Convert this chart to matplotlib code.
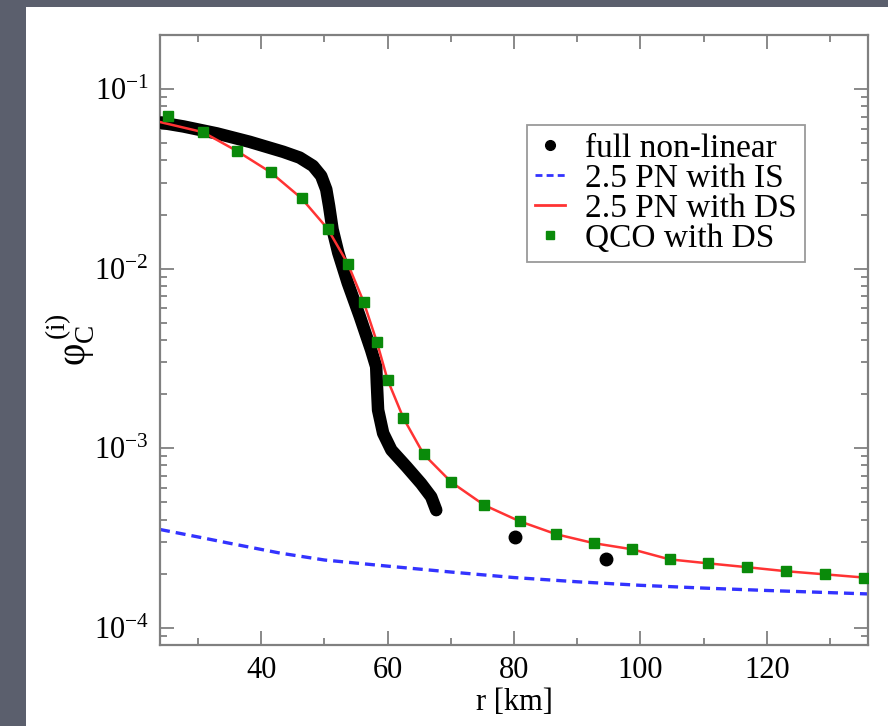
import matplotlib
matplotlib.use("Agg")
import matplotlib.pyplot as plt
from matplotlib.lines import Line2D
from matplotlib.patches import Rectangle
from matplotlib.ticker import LogLocator, MultipleLocator

plt.rcParams['font.family'] = ['Liberation Serif', 'DejaVu Serif']
plt.rcParams['mathtext.fontset'] = 'custom'
plt.rcParams['mathtext.rm'] = 'Liberation Serif'
plt.rcParams['mathtext.it'] = 'Liberation Serif:italic'
plt.rcParams['mathtext.cal'] = 'Liberation Serif'

# full non-linear evolution (dense band of points)
r_full = [24.0, 27.7, 33.0, 38.2, 43.5, 46.1, 48.2, 49.5, 50.3, 50.75, 51.3,
          52.2, 53.7, 55.6, 57.4, 58.2, 58.3, 58.5, 59.3, 60.6, 63.0, 65.3,
          66.9, 67.7]
phi_full = [0.0651, 0.0619, 0.0566, 0.0508, 0.0447, 0.0415, 0.0373, 0.0328,
            0.0276, 0.0223, 0.0165, 0.01225, 0.00832, 0.00542, 0.00352,
            0.00284, 0.00230, 0.00163, 0.00121, 0.000975, 0.000787,
            0.000635, 0.000535, 0.000451]
# later isolated samples of the full run
r_late = [80.1, 94.6]
phi_late = [3.18e-4, 2.40e-4]

# 2.5 PN with IS
r_is = [24, 30, 35, 43, 50, 60, 70, 80, 90, 100, 110, 120, 136]
phi_is = [3.52e-4, 3.2e-4, 2.95e-4, 2.6e-4, 2.38e-4, 2.2e-4, 2.04e-4,
          1.9e-4, 1.8e-4, 1.72e-4, 1.66e-4, 1.61e-4, 1.54e-4]

# QCO with DS
r_qco = [25.3, 30.8, 36.2, 41.5, 46.4, 50.5, 53.7, 56.2, 58.3, 60.0, 62.5,
         65.7, 70.1, 75.3, 80.9, 86.7, 92.7, 98.7, 104.6, 110.7, 116.9,
         123.1, 129.2, 135.4]
phi_qco = [0.0706, 0.0575, 0.0451, 0.0344, 0.0246, 0.0167, 0.01066, 0.00654,
           0.00391, 0.00240, 0.00147, 0.000925, 0.000645, 0.000481,
           0.000391, 0.000331, 0.000295, 0.000273, 0.000240, 0.000228,
           0.000217, 0.000206, 0.000198, 0.000190]

# 2.5 PN with DS
r_ds = [24.0] + r_qco[1:] + [136.0]
phi_ds = [0.0655] + phi_qco[1:] + [1.89e-4]

W, H = 888, 726
fig = plt.figure(figsize=(W / 100, H / 100), dpi=100, facecolor='#5b5f6d')
fig.patches.append(Rectangle((26 / W, 0), 1, 1 - 7 / H, transform=fig.transFigure,
                             facecolor='white', edgecolor='none', zorder=-5))
ax = fig.add_axes([160 / W, 1 - 645 / H, (868 - 160) / W, (645 - 35) / H])

ax.plot(r_is, phi_is, color='#3333ff', ls=(0, (3, 1.8)), lw=2.4, zorder=2)
ax.plot(r_full, phi_full, color='black', lw=9,
        solid_capstyle='round', solid_joinstyle='round', zorder=3)
ax.plot(r_late, phi_late, 'o', color='black', ms=9, zorder=3)
ax.plot(r_ds, phi_ds, color='#ff3333', lw=1.8, zorder=4)
ax.plot(r_qco, phi_qco, 's', color='#0a8a0a', ms=7, mec='#0a8a0a', zorder=5)

ax.set_yscale('log')
ax.set_xlim(24, 136)
ax.set_ylim(8e-5, 0.2)
ax.xaxis.set_major_locator(MultipleLocator(20))
ax.xaxis.set_minor_locator(MultipleLocator(10))
ax.yaxis.set_major_locator(LogLocator(base=10, numticks=10))
ax.yaxis.set_minor_locator(LogLocator(base=10, subs=range(2, 10), numticks=10))

for s in ax.spines.values():
    s.set_color('#808080')
    s.set_linewidth(1.6)
ax.tick_params(which='both', direction='in', top=True, right=True,
               color='#808080', width=1.3, labelsize=22, pad=8)
ax.tick_params(which='major', length=10)
ax.tick_params(which='minor', length=5)

ax.set_xlabel('r [km]', fontsize=22, labelpad=2)
ax.set_ylabel(r'$\mathrm{φ}_{\mathrm{C}}^{\,\mathrm{(i)}}$', fontsize=28,
              labelpad=-2)

handles = [
    Line2D([], [], ls='none', marker='o', color='black', ms=7),
    Line2D([], [], color='#3333ff', ls=(0, (2.5, 1.5)), lw=2.0),
    Line2D([], [], color='#ff3333', lw=2.0),
    Line2D([], [], ls='none', marker='s', color='#0a8a0a', ms=6),
]
labels = ['full non-linear', '2.5 PN with IS', '2.5 PN with DS', 'QCO with DS']
leg = ax.legend(handles, labels, loc='upper left', bbox_to_anchor=(0.518, 0.852),
                fontsize=24, frameon=True, fancybox=False, handlelength=0.9,
                handletextpad=0.6, labelspacing=-0.02, borderpad=0.25,
                borderaxespad=0)
leg.get_frame().set_edgecolor('#808080')
leg.get_frame().set_linewidth(1.3)

fig.savefig('out.png', dpi=100, facecolor=fig.get_facecolor())
